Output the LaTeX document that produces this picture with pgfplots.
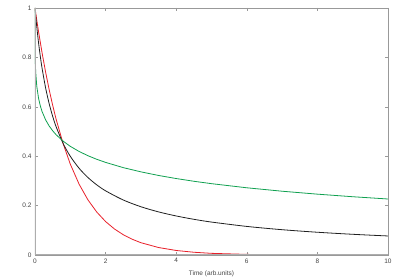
\documentclass[border=0pt]{standalone}
\usepackage{pgfplots}
\pgfplotsset{compat=1.18}
\usepackage{fontspec}
\setmainfont{Liberation Sans}
\usetikzlibrary{calc}
\definecolor{cred}{HTML}{E8202A}
\definecolor{cgreen}{HTML}{10A050}
\definecolor{cblack}{HTML}{202020}
\definecolor{frame}{HTML}{999999}
\definecolor{ticklab}{HTML}{444444}
\begin{document}
\begin{tikzpicture}
\begin{axis}[
  scale only axis, width=353pt, height=247pt,
  xmin=0, xmax=10, ymin=0, ymax=1,
  xtick={0,2,4,6,8,10}, ytick={0,0.2,0.4,0.6,0.8,1},
  tick align=inside, major tick length=3pt,
  axis line style={frame, line width=0.5pt},
  tick style={frame, line width=0.5pt},
  ticklabel style={font=\fontsize{6.5}{7}\selectfont, text=ticklab},
  /pgf/number format/assume math mode=true,
  xlabel={Time (arb.units)},
  xlabel style={font=\fontsize{6.5}{7}\selectfont, text=ticklab, yshift=-1pt},
  clip=true,
]
\addplot[cred, line width=0.8pt] coordinates {
(0,1) (0.05,0.9512) (0.1,0.9048) (0.2,0.8187) (0.3,0.7408) (0.4,0.6703) (0.5,0.6065) (0.6,0.5488) (0.8,0.4493) (1,0.3679) (1.25,0.2865) (1.5,0.2231) (1.75,0.1738) (2,0.1353) (2.25,0.1054) (2.5,0.0821) (2.75,0.0639) (3,0.0498) (3.5,0.0302) (4,0.0183) (4.5,0.0111) (5,0.0067) (6,0.0025) (7,0.0009) (8,0.0003) (9,0.0001) (10,0.00005)
};
\addplot[cblack, line width=0.8pt, smooth] coordinates {
(0,1) (0.01,0.9838) (0.02,0.9681) (0.05,0.9243) (0.1,0.8600) (0.15,0.8047) (0.2,0.7566) (0.3,0.6769) (0.4,0.6135) (0.5,0.5617) (0.6,0.5187) (0.8,0.4508) (1,0.3996) (1.25,0.3510) (1.5,0.3136) (1.75,0.2839) (2,0.2598) (2.5,0.2227) (3,0.1954) (3.5,0.1745) (4,0.1580) (4.5,0.1445) (5,0.1333) (6,0.1157) (7,0.1024) (8,0.0921) (9,0.0838) (10,0.0770)
};
\addplot[cgreen, line width=0.8pt] coordinates {
(0,1) (0.001,0.870) (0.003,0.8315) (0.01,0.7776) (0.02,0.7404) (0.05,0.6837) (0.1,0.6349) (0.15,0.6039) (0.2,0.5810) (0.3,0.5473) (0.4,0.5226) (0.5,0.5030) (0.6,0.4867) (0.8,0.4605) (1,0.4399) (1.25,0.4191) (1.5,0.4020) (1.75,0.3874) (2,0.3749) (2.5,0.3537) (3,0.3366) (3.5,0.3220) (4,0.3095) (4.5,0.2985) (5,0.2888) (6,0.2721) (7,0.2582) (8,0.2463) (9,0.2359) (10,0.2267)
};
\draw[frame!80, line width=1.3pt] (rel axis cs:0,1) -- (rel axis cs:0,0) -- (rel axis cs:1,0);
\coordinate (sw) at (rel axis cs:0,0);
\coordinate (ne) at (rel axis cs:1,1);
\end{axis}
\pgfresetboundingbox
\path ($(sw)+(-35pt,-25pt)$) rectangle ($(ne)+(12pt,8pt)$);
\end{tikzpicture}
\end{document}
